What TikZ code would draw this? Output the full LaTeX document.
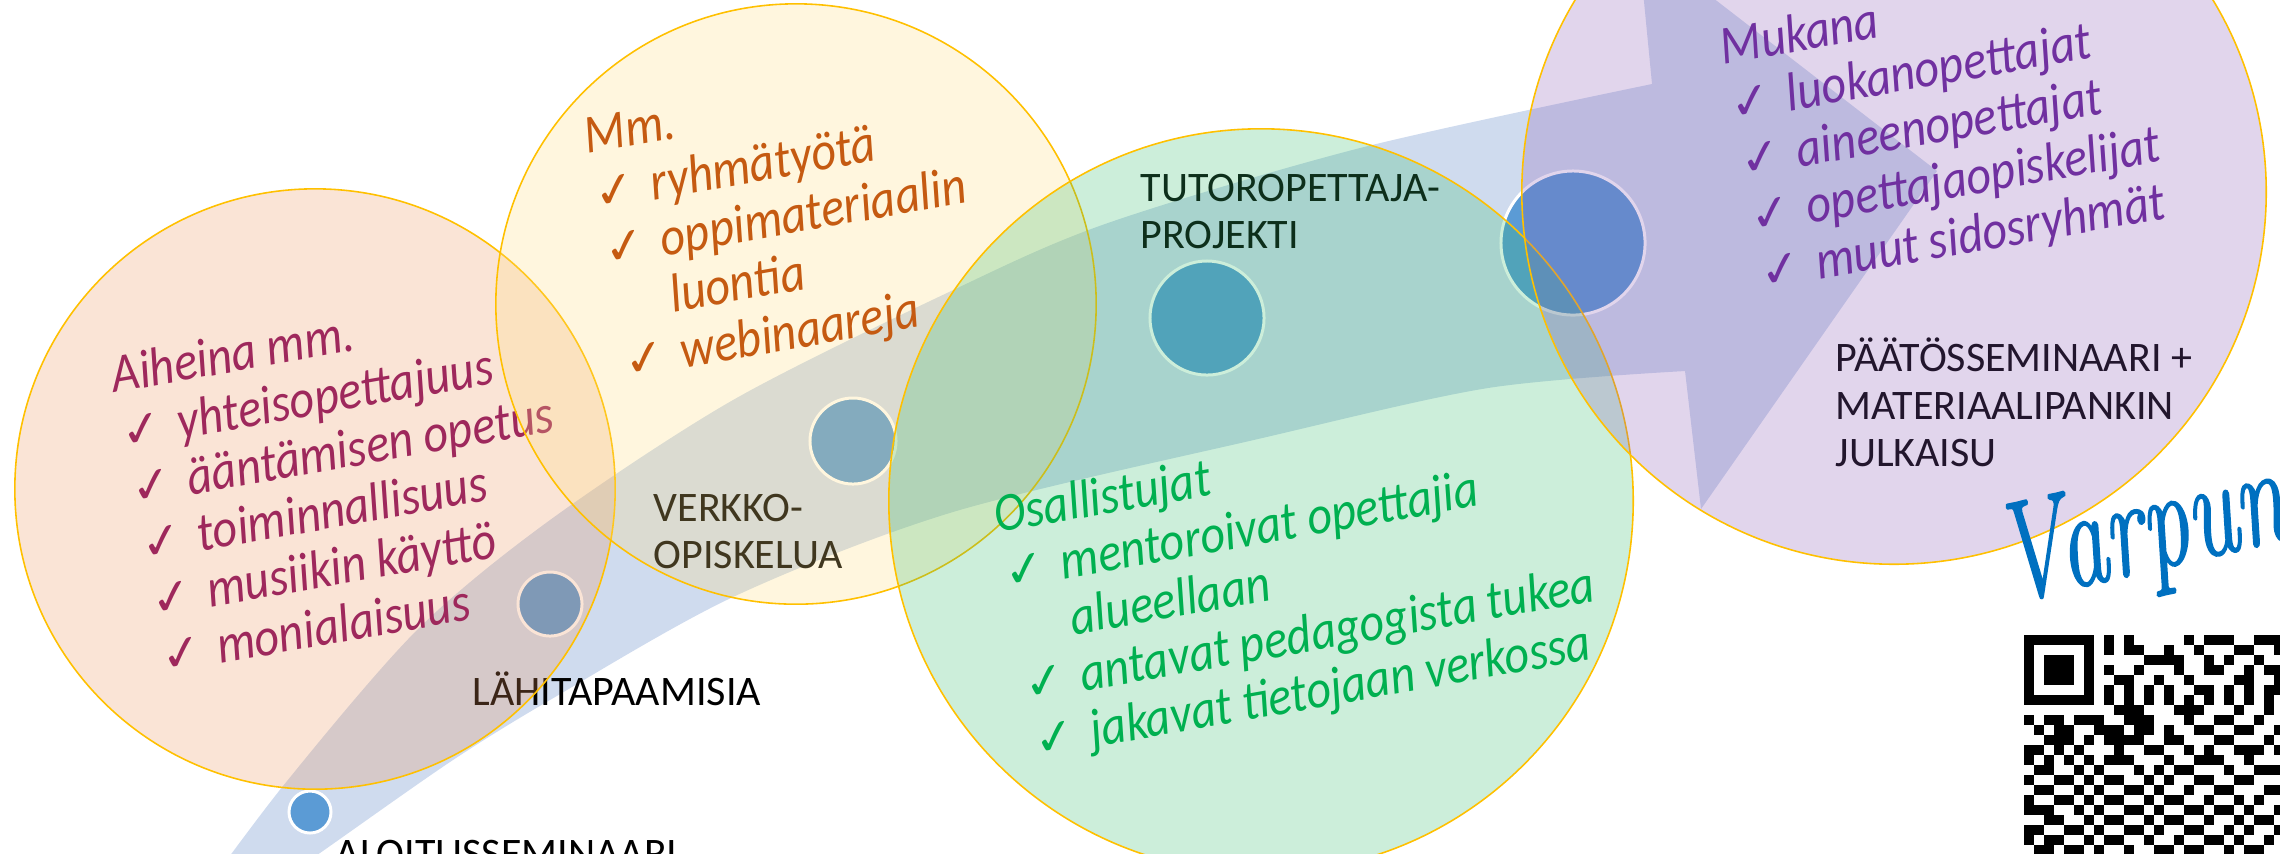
\documentclass[tikz,border=0pt]{standalone}
\usepackage{fontspec}
\usepackage{graphicx}
\newfontfamily\carl{Carlito}
\newfontfamily\carlc{Carlito}[FakeStretch=0.88]
\newfontfamily\symf{DejaVu Sans}
\newfontfamily\sigf{Latin Modern Roman}[FakeBold=1.5]
\definecolor{arrowc}{RGB}{207,219,238}
\definecolor{dotc}{RGB}{91,155,213}
\definecolor{orC}{RGB}{236,148,92}
\definecolor{yeC}{RGB}{255,220,124}
\definecolor{grC}{RGB}{52,188,108}
\definecolor{puC}{RGB}{136,88,180}
\definecolor{goldc}{RGB}{255,192,0}
\definecolor{orT}{RGB}{158,40,92}
\definecolor{yeT}{RGB}{197,90,17}
\definecolor{grT}{RGB}{0,176,80}
\definecolor{puT}{RGB}{112,48,160}
\definecolor{varpC}{RGB}{0,112,192}
\tikzset{
  lst/.style={font=\carlc\itshape\fontsize{15.5pt}{18pt}\selectfont, anchor=base west, inner sep=0pt, rotate=10},
  chk/.style={font=\symf\fontsize{14pt}{16pt}\selectfont, anchor=base west, inner sep=0pt, rotate=10},
  lbl/.style={font=\carl\fontsize{11.95pt}{13.37pt}\selectfont, anchor=base west, inner sep=0pt, align=left, text=black},
  dot/.style={circle, fill=dotc, draw=white, line width=0.85pt, inner sep=0pt},
  bigfill/.style={fill opacity=0.25},
  bigline/.style={draw=goldc, line width=0.45pt},
}
\begin{document}
\begin{tikzpicture}[x=0.01cm,y=-0.01cm]
\useasboundingbox (0,0) rectangle (2280,853);
\clip (0,0) rectangle (2280,853);
% big arrow
\fill[arrowc] plot[smooth] coordinates {(183,920) (283,786) (417,630) (550,520) (733,400) (949,292) (1105,224) (1360,148) (1652,84)}
  -- (1638,-60) -- (1937,171) -- (1701,509) -- (1685,371)
  -- plot[smooth] coordinates {(1685,371) (1488,388) (1258,439) (953,512) (733,597) (550,700) (450,762) (320,853) (224,920)} -- cycle;
% dots
\node[dot, minimum size=0.42cm] (d1) at (310,812) {};
\node[dot, minimum size=0.64cm] (d2) at (550,604) {};
\node[dot, minimum size=0.86cm] (d3) at (853,441) {};
\node[dot, minimum size=1.14cm] (d4) at (1207,318) {};
\node[dot, minimum size=1.44cm] (d5) at (1573,243) {};
% labels (anchor at baseline of the last line)
\node[lbl] (l1) at (335,867) {ALOITUSSEMINAARI};
\node[lbl] (l2) at (472,705) {LÄHITAPAAMISIA};
\node[lbl] (l3) at (653,568) {VERKKO-\\OPISKELUA};
\node[lbl] (l4) at (1140,248) {TUTOROPETTAJA-\\PROJEKTI};
\node[lbl] (l5) at (1835,466) {PÄÄTÖSSEMINAARI +\\MATERIAALIPANKIN\\JULKAISU};
% orange circle
\fill[orC, bigfill] (315,489) circle[radius=3cm];
\draw[bigline] (315,489) circle[radius=3cm];
\begin{scope}[shift={(114,393)}, rotate=10, every node/.append style={text=orT}]
\node[lst] (a0) at (0,0) {Aiheina mm.};
\node[chk] (a1c) at (0,57) {✓}; \node[lst] (a1) at (57,57) {yhteisopettajuus};
\node[chk] (a2c) at (0,114) {✓}; \node[lst] (a2) at (57,114) {ääntämisen opetus};
\node[chk] (a3c) at (0,171) {✓}; \node[lst] (a3) at (57,171) {toiminnallisuus};
\node[chk] (a4c) at (0,228) {✓}; \node[lst] (a4) at (57,228) {musiikin käyttö};
\node[chk] (a5c) at (0,285) {✓}; \node[lst] (a5) at (57,285) {monialaisuus};
\end{scope}
% yellow circle
\fill[yeC, bigfill] (796,304) circle[radius=3cm];
\draw[bigline] (796,304) circle[radius=3cm];
\begin{scope}[shift={(587,154)}, rotate=10, every node/.append style={text=yeT}]
\node[lst] (b0) at (0,0) {Mm.};
\node[chk] (b1c) at (0,57) {✓}; \node[lst] (b1) at (57,57) {ryhmätyötä};
\node[chk] (b2c) at (0,114) {✓}; \node[lst] (b2) at (57,114) {oppimateriaalin};
\node[lst] (b3) at (57,171) {luontia};
\node[chk] (b4c) at (0,228) {✓}; \node[lst] (b4) at (57,228) {webinaareja};
\end{scope}
% green circle
\fill[grC, bigfill] (1261,501) circle[radius=3.72cm];
\draw[bigline] (1261,501) circle[radius=3.72cm];
\begin{scope}[shift={(997,533)}, rotate=10, every node/.append style={text=grT}]
\node[lst] (c0) at (0,0) {Osallistujat};
\node[chk] (c1c) at (0,57) {✓}; \node[lst] (c1) at (57,57) {mentoroivat opettajia};
\node[lst] (c2) at (57,114) {alueellaan};
\node[chk] (c3c) at (0,171) {✓}; \node[lst] (c3) at (57,171) {antavat pedagogista tukea};
\node[chk] (c4c) at (0,228) {✓}; \node[lst] (c4) at (57,228) {jakavat tietojaan verkossa};
\end{scope}
% purple circle
\fill[puC, bigfill] (1894,192) circle[radius=3.72cm];
\draw[bigline] (1894,192) circle[radius=3.72cm];
\begin{scope}[shift={(1723,65)}, rotate=10, every node/.append style={text=puT}]
\node[lst] (e0) at (0,0) {Mukana};
\node[chk] (e1c) at (0,57) {✓}; \node[lst] (e1) at (57,57) {luokanopettajat};
\node[chk] (e2c) at (0,114) {✓}; \node[lst] (e2) at (57,114) {aineenopettajat};
\node[chk] (e3c) at (0,171) {✓}; \node[lst] (e3) at (57,171) {opettajaopiskelijat};
\node[chk] (e4c) at (0,228) {✓}; \node[lst] (e4) at (57,228) {muut sidosryhmät};
\end{scope}
% signature
\node[rotate=13, anchor=base west, inner sep=0pt, text=varpC, font=\sigf\itshape\fontsize{40pt}{44pt}\selectfont] (vp) at (2008,603) {\scalebox{0.66}[1]{Varpun}};
% QR code
\foreach \r/\cs in {
 0/{0,1,2,3,4,5,6,8,10,16,18,19,20,23,24,25},
 1/{0,6,8,10,11,14,17,21,22,25},
 2/{0,2,3,4,6,12,13,14,15,18,20,23},
 3/{0,2,3,4,6,8,11,15,18,19,22,24,25},
 4/{0,2,3,4,6,9,10,13,16,21,22,25},
 5/{0,6,8,10,12,14,17,18,20,22,24,25},
 6/{0,1,2,3,4,5,6,8,10,12,14,16,18,20,22,24},
 7/{9,10,11,15,16,17,21,24},
 8/{0,2,3,5,6,7,10,11,12,16,19,20,23},
 9/{1,3,4,7,8,9,11,12,14,17,18,21,22,25},
 10/{2,3,4,6,8,9,10,11,14,15,19,20,24},
 11/{0,1,3,5,9,12,13,16,18,21,22,23,25},
 12/{0,2,4,6,8,9,10,14,17,18,19,22},
 13/{1,2,5,7,11,13,15,16,20,23,24,25},
 14/{0,3,4,6,8,9,12,14,17,18,21,22},
 15/{1,2,5,7,10,11,13,16,19,20,24,25},
 16/{0,3,4,6,8,9,12,14,15,18,21,23},
 17/{0,1,2,5,7,10,11,13,16,17,19,20,22,25},
 18/{2,3,6,8,9,12,14,15,18,21,23,24},
 19/{0,1,4,5,7,10,11,13,16,17,20,22,25},
 20/{0,2,3,6,8,9,12,15,18,19,21,24},
 21/{1,2,4,5,7,10,13,14,16,17,20,22,23}}{
 \foreach \c in \cs {\fill[black] (2024+10*\c,635+10*\r) rectangle ++(10,10);}
}
\end{tikzpicture}
\end{document}
